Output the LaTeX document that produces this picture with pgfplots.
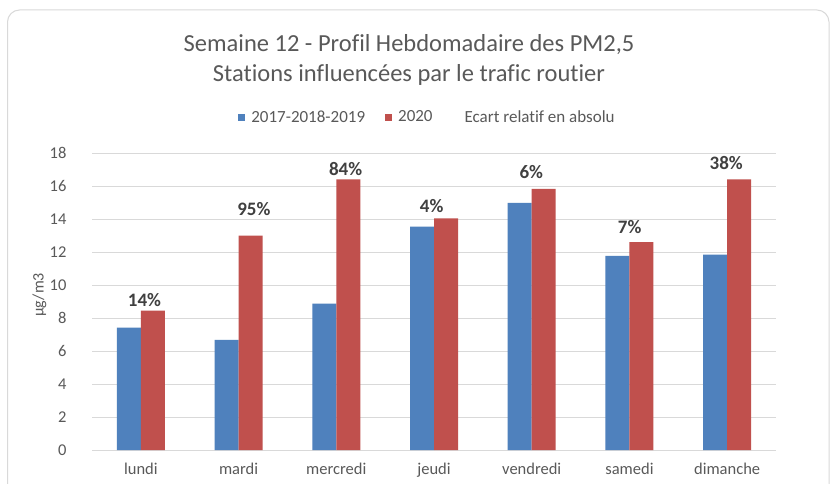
\documentclass[border=0pt]{standalone}
\usepackage{fontspec}
\setmainfont[Ligatures=NoCommon]{Carlito}
\usepackage{pgfplots}
\pgfplotsset{compat=1.18}
\definecolor{cblue}{HTML}{4F81BD}
\definecolor{cred}{HTML}{C0504D}
\definecolor{cgrid}{HTML}{D9D9D9}
\definecolor{ctext}{HTML}{595959}
\definecolor{clab}{HTML}{404040}
\begin{document}
\begin{tikzpicture}[x=1pt,y=1pt]
\useasboundingbox (0,0) rectangle (830,483);
\clip (0,0) rectangle (830,483);
\fill[white] (0,0) rectangle (830,483);
\draw[cgrid, line width=1pt, rounded corners=12pt] (7.5,-20) rectangle (829,473);
\node[text=ctext, font=\fontsize{24.5}{30}\selectfont, align=center] at (409,423) {Semaine 12 - Profil Hebdomadaire des PM2,5\\Stations influencées par le trafic routier};
\begin{axis}[at={(92pt,33pt)}, anchor=south west, scale only axis,
  width=684pt, height=297pt,
  xmin=-0.5, xmax=6.5, ymin=0, ymax=18,
  ytick={0,2,...,18}, xtick={0,...,6},
  xticklabels={lundi,mardi,mercredi,jeudi,vendredi,samedi,dimanche},
  tick label style={font=\fontsize{16.5}{18}\selectfont, text=ctext},
  /pgf/number format/assume math mode=true,
  ymajorgrids, grid style={cgrid, line width=1pt},
  major tick length=0pt,
  axis line style={draw=none},
  yticklabel style={xshift=-22pt},
  xticklabel style={yshift=-10pt},
  ylabel={µg/m3},
  every axis y label/.style={at={(axis description cs:-0.077,0.522)}, rotate=90, anchor=center, font=\fontsize{16}{18}\selectfont, text=ctext},
  legend style={at={(0.4905,1.121)}, anchor=center, draw=none, fill=none,
    font=\fontsize{17}{20}\selectfont, text=ctext,
    /tikz/every even column/.append style={column sep=18pt}},
  legend columns=3,
]
\addplot[ybar, bar width=24pt, bar shift=-12pt, fill=cblue, draw=none,
  legend image code/.code={\path[fill=cblue] (0pt,-3.5pt) rectangle (7pt,3.5pt); \path (0pt,0pt) (11pt,0pt);}]
  coordinates {(0,7.41) (1,6.67) (2,8.87) (3,13.54) (4,14.97) (5,11.76) (6,11.84)};
\addplot[ybar, bar width=24pt, bar shift=12pt, fill=cred, draw=none,
  legend image code/.code={\path[fill=cred] (0pt,-3.5pt) rectangle (7pt,3.5pt); \path (0pt,0pt) (11pt,0pt);}]
  coordinates {(0,8.44) (1,13.0) (2,16.4) (3,14.04) (4,15.82) (5,12.6) (6,16.4)};
\addplot[draw=none, mark=none, nodes near coords, point meta=explicit symbolic,
  nodes near coords style={anchor=center, font=\bfseries\fontsize{19}{19}\selectfont, text=clab},
  legend image code/.code={\path (0pt,0pt) (10pt,0pt);}]
  table[x=x, y=y, meta=lab] {
x y lab
0.037 9.09 14\%
1.156 14.59 95\%
2.096 17.01 84\%
2.976 14.81 4\%
3.996 16.83 6\%
5.003 13.53 7\%
5.990 17.41 38\%
};
\legend{2017-2018-2019, 2020, Ecart relatif en absolu}
\end{axis}
\end{tikzpicture}
\end{document}
